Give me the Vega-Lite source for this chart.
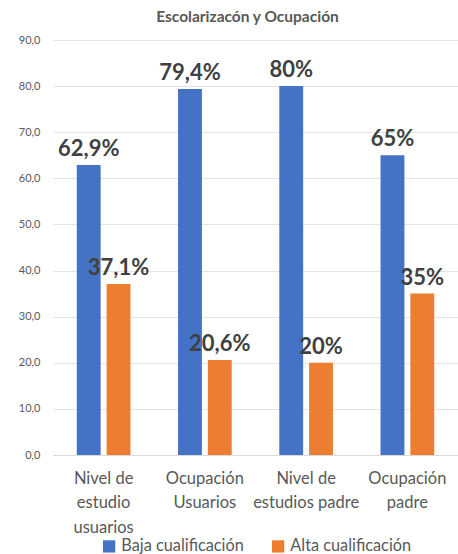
{
  "$schema": "https://vega.github.io/schema/vega-lite/v6.json",
  "autosize": {"type": "none"},
  "width": 405,
  "height": 415,
  "padding": {"left": 53, "right": 0, "top": 40, "bottom": 99},
  "config": {
    "font": "Lato",
    "view": {"stroke": "transparent"},
    "axisY": {
      "labelColor": "#595959",
      "labelFontSize": 11,
      "labelPadding": 13,
      "labelOverlap": false,
      "gridColor": "#e3e3e3",
      "domain": false,
      "ticks": false,
      "title": null
    },
    "axisX": {
      "labelColor": "#595959",
      "labelFontSize": 16.5,
      "labelPadding": 15,
      "labelLineHeight": 24.5,
      "labelAngle": 0,
      "domainColor": "#d9d9d9",
      "ticks": false,
      "title": null
    }
  },
  "title": {
    "text": "Escolarizacón y Ocupación",
    "fontSize": 15.5,
    "fontWeight": "bold",
    "color": "#595959",
    "anchor": "middle",
    "dx": -8,
    "offset": 9
  },
  "data": {
    "values": [
      {"grupo": "Nivel de|estudio|usuarios", "serie": "Baja cualificación", "valor": 62.9, "etiqueta": "62,9%"},
      {"grupo": "Nivel de|estudio|usuarios", "serie": "Alta cualificación", "valor": 37.1, "etiqueta": "37,1%"},
      {"grupo": "Ocupación|Usuarios", "serie": "Baja cualificación", "valor": 79.4, "etiqueta": "79,4%"},
      {"grupo": "Ocupación|Usuarios", "serie": "Alta cualificación", "valor": 20.6, "etiqueta": "20,6%"},
      {"grupo": "Nivel de|estudios padre", "serie": "Baja cualificación", "valor": 80, "etiqueta": "80%"},
      {"grupo": "Nivel de|estudios padre", "serie": "Alta cualificación", "valor": 20, "etiqueta": "20%"},
      {"grupo": "Ocupación|padre", "serie": "Baja cualificación", "valor": 65, "etiqueta": "65%"},
      {"grupo": "Ocupación|padre", "serie": "Alta cualificación", "valor": 35, "etiqueta": "35%"}
    ]
  },
  "encoding": {
    "x": {
      "field": "grupo",
      "type": "nominal",
      "sort": null,
      "scale": {"paddingInner": 0.47, "paddingOuter": 0.235},
      "axis": {"labelExpr": "split(datum.label, '|')"}
    },
    "xOffset": {
      "field": "serie",
      "type": "nominal",
      "sort": ["Baja cualificación", "Alta cualificación"],
      "scale": {"paddingInner": 0.2, "paddingOuter": 0}
    },
    "y": {
      "field": "valor",
      "type": "quantitative",
      "scale": {"domain": [0, 90], "nice": false},
      "axis": {"values": [0, 10, 20, 30, 40, 50, 60, 70, 80, 90], "format": ".1f", "labelExpr": "replace(datum.label, '.', ',')"}
    }
  },
  "layer": [
    {
      "mark": {"type": "bar"},
      "encoding": {
        "color": {
          "field": "serie",
          "type": "nominal",
          "sort": ["Baja cualificación", "Alta cualificación"],
          "scale": {"domain": ["Baja cualificación", "Alta cualificación"], "range": ["#4472c4", "#ed7d31"]},
          "legend": {
            "orient": "none",
            "legendX": 48,
            "legendY": 498,
            "direction": "horizontal",
            "title": null,
            "symbolType": "square",
            "symbolSize": 150,
            "symbolStrokeWidth": 0,
            "labelFontSize": 16.3,
            "labelColor": "#595959",
            "labelOffset": 4,
            "columnPadding": 26
          }
        }
      }
    },
    {
      "mark": {"type": "text", "baseline": "alphabetic", "dy": -9, "fontSize": 22, "fontWeight": "bold", "color": "#404040"},
      "encoding": {"text": {"field": "etiqueta"}}
    }
  ]
}
